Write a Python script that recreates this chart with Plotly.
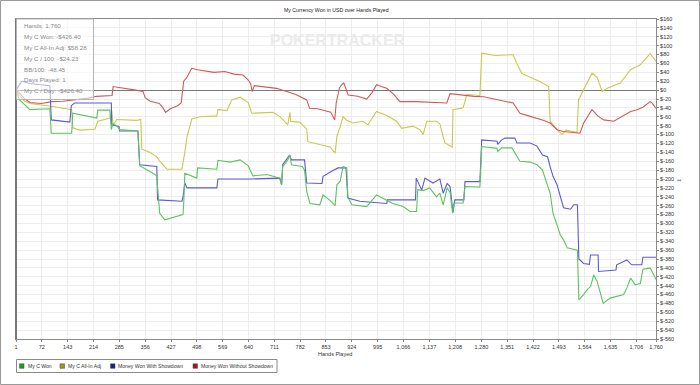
import plotly.graph_objects as go

# ---------------- data (hand number, dollars) ----------------
won_hands = [1, 11, 39, 94, 98, 154, 157, 190, 223, 226, 259, 263, 267, 278, 286, 336, 341, 369, 388, 390,
             396, 410, 440, 460, 462, 465, 498, 500, 553, 556, 589, 617, 639, 652, 691, 726, 731, 734, 748,
             754, 758, 788, 794, 800, 809, 836, 845, 864, 878, 883, 892, 900, 910, 913, 924, 965, 992, 1020,
             1037, 1065, 1084, 1102, 1105, 1120, 1138, 1157, 1166, 1175, 1186, 1194, 1201, 1205, 1230, 1235,
             1276, 1281, 1323, 1325, 1336, 1364, 1377, 1386, 1414, 1433, 1448, 1462, 1469, 1477, 1488, 1497,
             1506, 1516, 1544, 1548, 1561, 1571, 1580, 1589, 1598, 1607, 1615, 1634, 1671, 1680, 1690, 1703,
             1717, 1724, 1744, 1760]
won_vals = [0, -22, -44, -42, -97, -97, -52, -58, -63, -45, -45, -89, -76, -80, -89, -92, -170, -183, -193, -217,
            -277, -292, -285, -280, -254, -187, -198, -175, -178, -158, -162, -157, -170, -193, -190, -198, -213, -172, -157,
            -146, -168, -172, -180, -228, -255, -258, -236, -248, -260, -213, -205, -172, -175, -240, -258, -262, -236, -247,
            -255, -262, -273, -273, -224, -226, -220, -240, -232, -258, -220, -230, -277, -254, -254, -217,
            -218, -127, -131, -138, -130, -130, -149, -160, -162, -168, -180, -217, -232, -277, -303, -326,
            -337, -355, -360, -472, -460, -449, -442, -416, -430, -457, -480, -468, -460, -445, -423, -438,
            -435, -403, -400, -426]

adj_hands = [1, 10, 25, 40, 102, 154, 157, 176, 218, 226, 259, 264, 268, 278, 333, 344, 347, 369, 388, 396,
             416, 457, 465, 471, 484, 506, 553, 556, 581, 594, 617, 639, 649, 707, 726, 748, 754, 756, 781,
             800, 803, 836, 864, 878, 883, 892, 900, 910, 927, 955, 968, 992, 1020, 1047, 1061, 1092, 1111,
             1120, 1130, 1157, 1166, 1175, 1180, 1200, 1202, 1230, 1235, 1240, 1276, 1281, 1318, 1367, 1377,
             1391, 1414, 1442, 1465, 1469, 1488, 1502, 1513, 1543, 1547, 1561, 1584, 1598, 1612, 1626, 1662,
             1690, 1717, 1744, 1760]
adj_vals = [0, -12, -25, -30, -37, -44, -85, -90, -88, -70, -63, -46, -78, -66, -68, -66, -133, -140, -150, -160,
            -178, -178, -140, -105, -65, -60, -58, -44, -46, -22, -16, -28, -52, -50, -59, -78, -50, -70, -72,
            -88, -116, -122, -128, -142, -104, -82, -59, -68, -74, -70, -78, -48, -57, -70, -86, -81, -89,
            -100, -70, -70, -76, -105, -119, -128, -44, -40, -22, -10, -12, 83, 78, 80, 61,
            38, 29, 19, 8, -70, -89, -100, -90, -95, -22, 0, 38, 29, -3, 4, 16,
            46, 57, 82, 65]

sd_hands = [1, 17, 39, 94, 98, 149, 153, 162, 263, 264, 284, 286, 336, 341, 388, 390, 457, 460, 465, 471,
            553, 556, 644, 726, 731, 734, 753, 758, 794, 800, 842, 845, 870, 886, 908, 913, 946, 982, 1020,
            1022, 1099, 1101, 1116, 1125, 1147, 1166, 1175, 1186, 1194, 1202, 1207, 1232, 1235, 1276, 1281,
            1323, 1325, 1336, 1345, 1372, 1378, 1414, 1433, 1448, 1462, 1469, 1477, 1488, 1497, 1506, 1525,
            1534, 1544, 1548, 1561, 1577, 1580, 1601, 1602, 1650, 1652, 1680, 1693, 1721, 1724, 1760]
sd_vals = [0, 20, 15, 10, -67, -72, -35, -29, -29, -78, -82, -92, -92, -168, -172, -247, -250, -240, -209, -220,
           -220, -200, -200, -198, -213, -168, -146, -157, -157, -209, -210, -194, -182, -175, -175, -243, -250, -252, -255,
           -247, -247, -198, -225, -198, -209, -200, -232, -210, -217, -275, -247, -247, -206, -206, -112,
           -115, -122, -112, -108, -108, -119, -119, -126, -146, -150, -172, -194, -213, -240, -265, -268,
           -258, -258, -380, -390, -392, -371, -371, -408, -405, -393, -382, -393, -393, -376, -376]

nsd_hands = [1, 12, 25, 40, 70, 100, 130, 167, 200, 222, 265, 268, 300, 330, 350, 356, 370, 395, 405, 412,
             425, 445, 455, 462, 470, 480, 484, 500, 520, 545, 575, 600, 625, 640, 646, 650, 656, 675, 700,
             717, 745, 770, 800, 808, 830, 850, 866, 877, 881, 890, 896, 902, 908, 914, 940, 965, 980, 992,
             1005, 1020, 1040, 1056, 1100, 1150, 1185, 1194, 1230, 1260, 1286, 1320, 1350, 1367, 1380, 1386,
             1410, 1433, 1450, 1469, 1480, 1488, 1505, 1530, 1551, 1561, 1575, 1584, 1600, 1616, 1644, 1660,
             1671, 1690, 1708, 1725, 1744, 1750, 1760]
nsd_vals = [0, -8, -20, -28, -30, -26, -25, -22, -18, -14, -12, 8, 3, 0, -3, -17, -25, -30, -40, -50,
            -42, -35, -29, 20, 28, 45, 49, 46, 44, 40, 42, 36, 34, 22, 14, -3, 10, 8, 6,
            4, -3, -10, -22, -41, -42, -46, -50, -67, -29, 5, 12, 16, 4, -11, -14, -20, -5, 12,
            8, 4, -10, -26, -26, -28, -29, -8, -12, -14, -15, -20, -26, -29, -45, -52,
            -58, -63, -68, -74, -82, -89, -93, -95, -97, -74, -55, -44, -58, -67, -70, -62,
            -56, -48, -44, -38, -26, -30, -41]

x_ticks = [1, 72, 143, 214, 285, 356, 427, 498, 569, 640, 711, 782, 853, 924, 995, 1066, 1137, 1208,
           1280, 1351, 1422, 1493, 1564, 1635, 1706, 1760]
x_tick_labels = ["1", "72", "143", "214", "285", "356", "427", "498", "569", "640", "711", "782", "853",
                 "924", "995", "1,066", "1,137", "1,208", "1,280", "1,351", "1,422", "1,493", "1,564",
                 "1,635", "1,706", "1,760"]
y_ticks = list(range(-560, 161, 20))
y_tick_labels = ["$" + str(v) for v in y_ticks]

series_names = ["My C Won", "My C All-In Adj", "Money Won With Showdown", "Money Won Without Showdown"]
line_colors = ["#5cc45c", "#c9c94e", "#5a5ad6", "#d05a5a"]
legend_colors = ["#1f9f1f", "#9c9c10", "#1c1c96", "#a81818"]

stats_lines = ["Hands: 1,760", "My C Won: -$426.40", "My C All-In Adj: $58.28", "My C / 100: -$24.23",
               "BB/100: -48.45", "Days Played: 1", "My C / Day: -$426.40"]

# ---------------- figure ----------------
L, R, T, B = 16, 44, 19, 46
W, H = 700, 385
PW, PH = W - L - R, H - T - B

def px(x):
    return (x - L) / PW

def py(y):
    return (H - B - y) / PH

fig = go.Figure()
all_data = [(won_hands, won_vals), (adj_hands, adj_vals), (sd_hands, sd_vals), (nsd_hands, nsd_vals)]
order = [1, 3, 2, 0]
for i in order:
    hx, hy = all_data[i]
    fig.add_trace(go.Scatter(x=hx, y=hy, mode="lines", name=series_names[i],
                             line=dict(color=line_colors[i], width=1.1), showlegend=False,
                             hoverinfo="skip"))

AX_FONT = dict(family="Liberation Sans, Arial", size=5.5, color="#333333")

fig.update_layout(
    width=W, height=H,
    margin=dict(l=L, r=R, t=T, b=B, pad=0),
    paper_bgcolor="white", plot_bgcolor="white",
    showlegend=False,
    xaxis=dict(range=[1, 1760], tickvals=x_ticks, ticktext=x_tick_labels, tickfont=AX_FONT,
               showgrid=True, gridcolor="#ededed", gridwidth=1, zeroline=False,
               showline=True, linecolor="#8a8a8a", linewidth=1, mirror=True,
               ticks="outside", ticklen=2, tickcolor="#8a8a8a", tickangle=0, automargin=False),
    yaxis=dict(range=[-560, 160], tickvals=y_ticks, ticktext=y_tick_labels, tickfont=AX_FONT,
               side="right", showgrid=True, gridcolor="#ededed", gridwidth=1,
               zeroline=True, zerolinecolor="#7a7a7a", zerolinewidth=1.4,
               showline=True, linecolor="#8a8a8a", linewidth=1, mirror=True,
               ticks="outside", ticklen=2, tickcolor="#8a8a8a", automargin=False),
)

shapes = []
# outer frame of the picture
shapes.append(dict(type="rect", xref="paper", yref="paper", x0=px(0.5), x1=px(699.5), y0=py(384.5), y1=py(0.5),
                   line=dict(color="#9a9a9a", width=1), fillcolor="rgba(0,0,0,0)", layer="above"))
# thicker left border of plot
shapes.append(dict(type="line", xref="paper", yref="paper", x0=px(16), x1=px(16), y0=0, y1=1,
                   line=dict(color="#777777", width=2), layer="above"))
# stats box
shapes.append(dict(type="rect", xref="paper", yref="paper", x0=px(16.5), x1=px(93.5), y0=py(99.5), y1=py(19),
                   line=dict(color="#b5b5b5", width=1), fillcolor="rgba(255,255,255,0.55)", layer="above"))
# legend box
shapes.append(dict(type="rect", xref="paper", yref="paper", x0=px(16.5), x1=px(277), y0=py(372.5), y1=py(359.5),
                   line=dict(color="#8a8a8a", width=1), fillcolor="white", layer="above"))
leg_sq_x = [19.5, 60, 110.5, 193]
leg_txt_x = [26, 65.5, 116, 198.5]
for i in range(4):
    shapes.append(dict(type="rect", xref="paper", yref="paper", x0=px(leg_sq_x[i]), x1=px(leg_sq_x[i] + 4.5),
                       y0=py(368.3), y1=py(363.8), line=dict(color="#444444", width=0.5),
                       fillcolor=legend_colors[i], layer="above"))
fig.update_layout(shapes=shapes)

ann = []
ann.append(dict(text="My Currency Won in USD over Hands Played", xref="paper", yref="paper",
                x=0.5, y=py(10), xanchor="center", yanchor="middle", showarrow=False,
                font=dict(family="Liberation Sans, Arial", size=5.2, color="#222222")))
ann.append(dict(text="Hands Played", xref="paper", yref="paper", x=px(335), y=py(353.5),
                xanchor="center", yanchor="middle", showarrow=False,
                font=dict(family="Liberation Sans, Arial", size=5.5, color="#333333")))
ann.append(dict(text="<b>POKERTRACKER</b>", xref="paper", yref="paper", x=px(338), y=py(40.5),
                xanchor="center", yanchor="middle", showarrow=False,
                font=dict(family="Liberation Sans, Arial", size=16, color="#ebebeb")))
ann.append(dict(text="⇔", xref="paper", yref="paper", x=px(679), y=py(179.5),
                xanchor="center", yanchor="middle", showarrow=False,
                font=dict(family="DejaVu Sans", size=5, color="#555555")))
for k, s in enumerate(stats_lines):
    ann.append(dict(text=s, xref="paper", yref="paper", x=px(21.5), y=py(26 + k * 10.75),
                    xanchor="left", yanchor="middle", showarrow=False,
                    font=dict(family="Liberation Sans, Arial", size=6.2, color="#8a8a8a")))
for i in range(4):
    ann.append(dict(text=series_names[i], xref="paper", yref="paper", x=px(leg_txt_x[i]), y=py(366),
                    xanchor="left", yanchor="middle", showarrow=False,
                    font=dict(family="Liberation Sans, Arial", size=5.1, color="#333333")))
fig.update_layout(annotations=ann)

fig.write_html("out.html", config={"displayModeBar": False},
               post_script="document.body.style.margin='0';document.body.style.overflow='hidden';")
